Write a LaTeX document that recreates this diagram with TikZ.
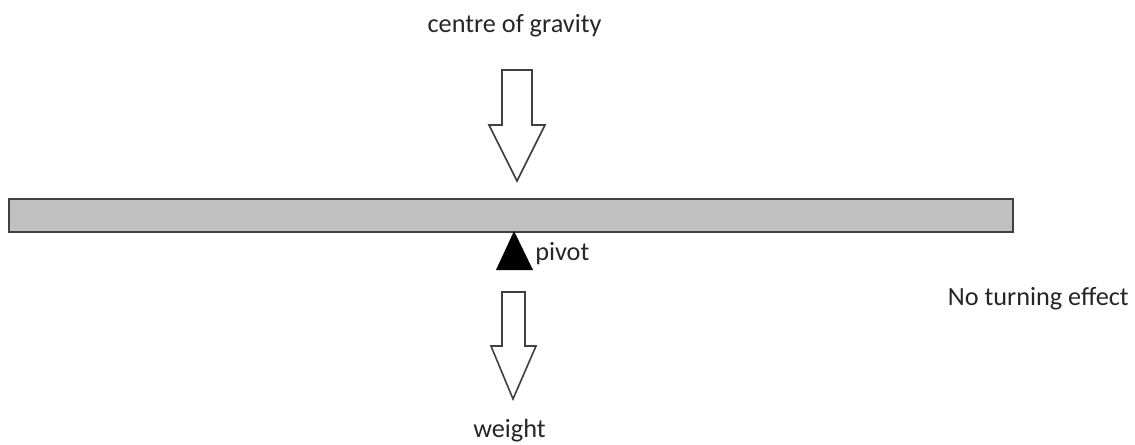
\documentclass[tikz,border=0pt]{standalone}
\usepackage{fontspec}
\setmainfont{Carlito}
\usetikzlibrary{arrows.meta}
\usepackage{xcolor}
\definecolor{beamgrey}{HTML}{C0C0C0}
\definecolor{linegrey}{HTML}{404040}
\tikzset{
	forcearrow/.style={draw=linegrey,line width=1.2pt,fill=white,line join=miter},
	labeltext/.style={inner sep=0pt,font=\fontsize{19.7}{23}\selectfont,text=black!85}
}

\begin{document}
\begin{tikzpicture}[x=0.75pt,y=-0.75pt]
		\useasboundingbox (0,0) rectangle (1135,444);
		
		% Beam
		\draw[draw=linegrey,line width=1.4pt,fill=beamgrey] (9,199) rectangle (1013,232);
		
		% Pivot
		\fill[black] (514,231) -- (533,270) -- (496,270) -- cycle;
		\node[labeltext,anchor=west] (pivot) at (535,254) {pivot};
		
		% Centre of gravity arrow
		\draw[forcearrow] (502,70) -- (532,70) -- (532,125) -- (545,125) -- (517,181) -- (489,125) -- (502,125) -- cycle;
		\node[labeltext] (centre) at (514.5,26) {centre of gravity};
		
		% Weight arrow
		\draw[forcearrow] (502,292) -- (525,292) -- (525,346) -- (536,346) -- (513,399) -- (491,346) -- (502,346) -- cycle;
		\node[labeltext] (weight) at (509.5,431) {weight};
		
		% Result
		\node[labeltext,anchor=east] (result) at (1129,299) {No turning effect};
	\end{tikzpicture}
\end{document}
